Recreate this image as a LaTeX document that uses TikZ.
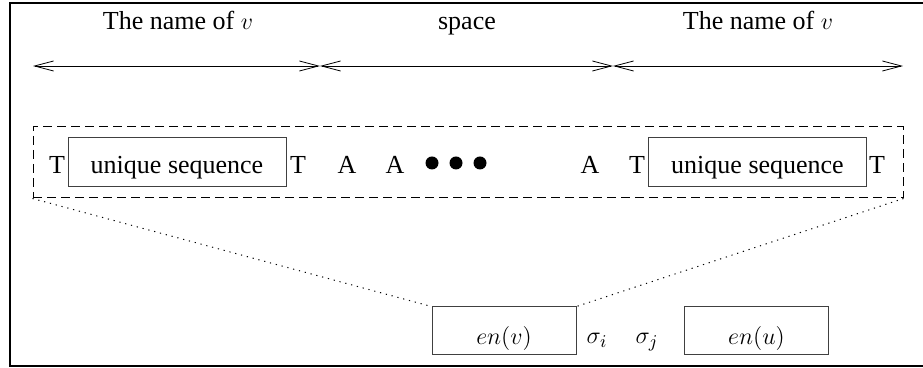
\documentclass[tikz,border=0pt]{standalone}
\usepackage{fontspec}
\setmainfont{Liberation Serif}
\usetikzlibrary{arrows.meta,fit}
\begin{document}
\begin{tikzpicture}[x=0.5pt,y=-0.5pt,
  txt/.style={font=\fontsize{13}{15}\selectfont, inner sep=0pt, anchor=base},
  seqbox/.style={draw=black!75, line width=0.5pt, minimum width=109pt, minimum height=24.5pt, inner sep=0pt, text height=12.5pt, text depth=1pt, font=\fontsize{13}{15}\selectfont},
  encbox/.style={draw=black!75, line width=0.5pt, minimum width=72pt, minimum height=24pt, inner sep=0pt, text height=15pt, text depth=1pt, font=\fontsize{13}{15}\selectfont},
  dotnode/.style={circle, fill=black, inner sep=0pt, minimum size=6.5pt},
  dim/.style={line width=0.4pt, {Straight Barb[length=9.5pt,width=5pt]}-{Straight Barb[length=9.5pt,width=5pt]}},
  dashbox/.style={draw, line width=0.5pt, dash pattern=on 4.5pt off 2.5pt, inner sep=0pt},
  dotline/.style={line width=0.5pt, dash pattern=on 0.6pt off 2.4pt}
]
\useasboundingbox (0,0) rectangle (923,368);
% frame
\draw[line width=1pt] (923,3) -- (10,3) -- (10,366) -- (923,366);
% titles
\node[txt] (t1) at (178,30) {The name of $v$};
\node[txt] (t2) at (467,30) {space};
\node[txt] (t3) at (758,30) {The name of $v$};
% dimension arrows
\coordinate (a0) at (33,66);
\coordinate (a1) at (320,66);
\coordinate (a2) at (613,66);
\coordinate (a3) at (903,66);
\draw[dim] (a0) -- (a1);
\draw[dim] (a1) -- (a2);
\draw[dim] (a2) -- (a3);
% dashed box
\coordinate (d1) at (33,127);
\coordinate (d2) at (903,198);
\node[dashbox, fit=(d1)(d2)] (dbox) {};
% sequence
\node[seqbox] (u1) at (177,162.5) {unique sequence};
\node[seqbox] (u2) at (757.5,162.5) {unique sequence};
\node[txt] (l1) at (57,174) {T};
\node[txt] (l2) at (298,174) {T};
\node[txt] (l3) at (347,174) {A};
\node[txt] (l4) at (395,174) {A};
\node[dotnode] (p1) at (432,163) {};
\node[dotnode] (p2) at (456,163) {};
\node[dotnode] (p3) at (480,163) {};
\node[txt] (l5) at (590,174) {A};
\node[txt] (l6) at (637,174) {T};
\node[txt] (l7) at (877,174) {T};
% encodings
\node[encbox] (env) at (504,331) {$en(v)$};
\node[encbox] (enu) at (756.5,331) {$en(u)$};
\node[txt] (si) at (597,344) {$\sigma_i$};
\node[txt] (sj) at (647,344) {$\sigma_j$};
% dotted projection
\draw[dotline] (dbox.south west) -- (env.north west);
\draw[dotline] (dbox.south east) -- (env.north east);
\end{tikzpicture}
\end{document}
